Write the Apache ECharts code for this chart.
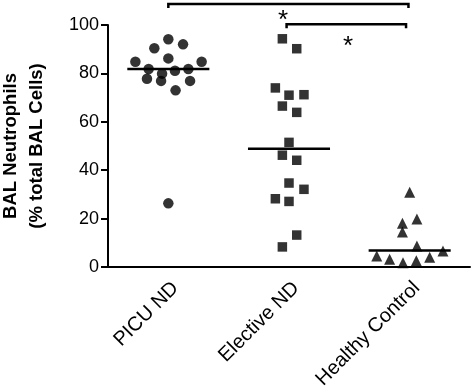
<!DOCTYPE html>
<html>
<head>
<meta charset="utf-8">
<script src="https://cdn.jsdelivr.net/npm/echarts@6/dist/echarts.min.js"></script>
<style>html,body{margin:0;padding:0;background:#fff}#c{width:474px;height:390px}</style>
</head>
<body>
<div id="c"></div>
<script>
// ---- data ----
var categories = ['PICU ND', 'Elective ND', 'Healthy Control'];
var yTicks = [0, 20, 40, 60, 80, 100];

var picuValues = [94.1, 90.4, 92.0, 84.8, 86.2, 84.8, 81.8, 79.9, 81.1, 81.8, 77.8, 76.9, 76.9, 73.0, 26.3];
var picuJitter = [0, -0.116, 0.122, -0.273, 0, 0.276, -0.163, -0.052, 0.055, 0.166, -0.177, -0.06, 0.18, 0.06, 0];

var electiveValues = [94.3, 90.2, 74.0, 71.0, 71.2, 66.5, 63.9, 51.5, 46.2, 44.1, 34.7, 32.1, 28.2, 27.1, 13.2, 8.3];
var electiveJitter = [-0.055, 0.064, -0.113, 0, 0.124, -0.055, 0.064, 0, -0.055, 0.064, 0, 0.124, -0.113, 0, 0.064, -0.055];

var healthyValues = [30.9, 19.8, 18.1, 14.5, 8.7, 6.6, 4.5, 3.2, 4.0, 1.8, 2.6];
var healthyJitter = [0, 0.06, -0.06, -0.06, 0.06, 0.276, -0.273, -0.166, 0.166, -0.055, 0.055];

var medians = [81.8, 48.9, 6.8];

var bracketFrom = [0, 0.98];
var bracketTo = [1.99, 1.97];
var bracketLevel = [108.7, 100.3];
var starX = [0.95, 1.49];
var starLevel = [104.1, 93.5];
var starText = ['*', '*'];

// ---- build ----
function pts(vals, jit, g) {
  return vals.map(function (v, i) { return [g + 0.5 + jit[i], v]; });
}
var font = 'Liberation Sans, Arial, sans-serif';
var chart = echarts.init(document.getElementById('c'));

chart.setOption({
  animation: false,
  backgroundColor: '#fff',
  grid: { left: 108, right: 4, top: 25, bottom: 123, containLabel: false, outerBoundsMode: 'none' },
  xAxis: [{
    type: 'category',
    data: categories,
    boundaryGap: true,
    axisLine: { lineStyle: { color: '#000', width: 2 } },
    axisTick: { alignWithLabel: true, length: 8, lineStyle: { color: '#000', width: 2 } },
    axisLabel: { rotate: 45, color: '#000', fontSize: 20, fontFamily: font, margin: 11, interval: 0, verticalAlign: 'top' },
    splitLine: { show: false }
  }, {
    type: 'value', min: 0, max: 3, show: false
  }],
  yAxis: {
    type: 'value', min: 0, max: 100, interval: 20,
    name: 'BAL Neutrophils\n(% total BAL Cells)',
    nameLocation: 'middle', nameRotate: 90, nameGap: 58,
    nameTextStyle: { color: '#000', fontSize: 18.5, fontWeight: 'bold', fontFamily: font, lineHeight: 26 },
    axisLine: { show: true, lineStyle: { color: '#000', width: 2 } },
    axisTick: { show: true, length: 7, lineStyle: { color: '#000', width: 2 } },
    axisLabel: { color: '#000', fontSize: 18, fontFamily: font, margin: 9,
      formatter: function (v) { return yTicks.indexOf(v) >= 0 ? String(v) : ''; } },
    splitLine: { show: false }
  },
  series: [
    { type: 'scatter', xAxisIndex: 1, symbol: 'circle', symbolSize: 10.5, itemStyle: { color: '#000' }, data: pts(picuValues, picuJitter, 0) },
    { type: 'scatter', xAxisIndex: 1, symbol: 'rect', symbolSize: 9.5, itemStyle: { color: '#000' }, data: pts(electiveValues, electiveJitter, 1) },
    { type: 'scatter', xAxisIndex: 1, symbol: 'triangle', symbolSize: 11, itemStyle: { color: '#000' }, data: pts(healthyValues, healthyJitter, 2) },
    {
      type: 'custom', xAxisIndex: 1, clip: false,
      data: medians.map(function (m, i) { return [i + 0.5, m]; }),
      renderItem: function (params, api) {
        var a = api.coord([api.value(0) - 0.34, api.value(1)]);
        var b = api.coord([api.value(0) + 0.34, api.value(1)]);
        return { type: 'line', shape: { x1: a[0], y1: a[1], x2: b[0], y2: b[1] }, style: { stroke: '#000', lineWidth: 2.5 } };
      }
    },
    {
      type: 'custom', xAxisIndex: 1, clip: false,
      data: bracketFrom.map(function (f, i) { return [f + 0.5, bracketTo[i] + 0.5, bracketLevel[i], starX[i] + 0.5, starLevel[i]]; }),
      renderItem: function (params, api) {
        var a = api.coord([api.value(0), api.value(2)]);
        var b = api.coord([api.value(1), api.value(2)]);
        var s = api.coord([api.value(3), api.value(4)]);
        var d = 4;
        return {
          type: 'group',
          children: [
            { type: 'polyline', shape: { points: [[a[0], a[1] + d], [a[0], a[1]], [b[0], b[1]], [b[0], b[1] + d]] }, style: { stroke: '#000', lineWidth: 2.5, fill: null } },
            { type: 'text', style: { x: s[0], y: s[1] + 6, text: starText[params.dataIndex], fontSize: 26, fontFamily: font, fill: '#000', align: 'center', verticalAlign: 'middle' } }
          ]
        };
      }
    }
  ]
});
</script>
</body>
</html>
